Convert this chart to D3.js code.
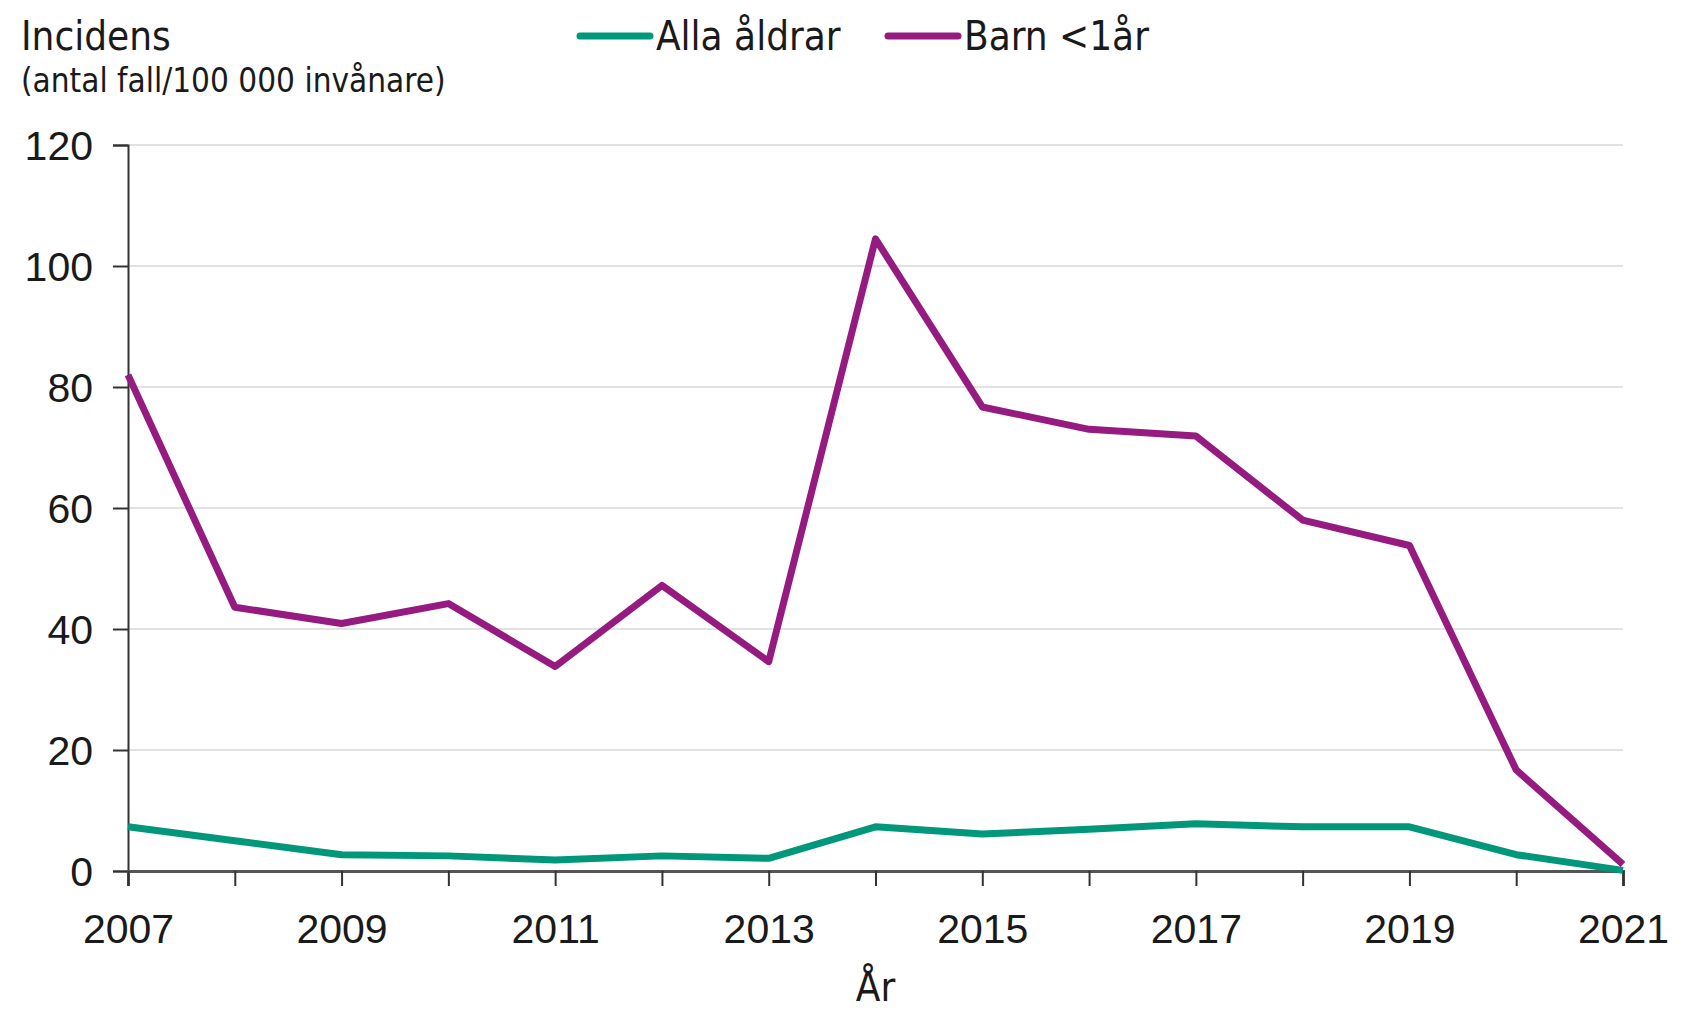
<!DOCTYPE html>
<html>
<head>
<meta charset="utf-8">
<script src="https://cdn.jsdelivr.net/npm/d3@7"></script>
<style>
  html, body { margin: 0; padding: 0; background: #fff; }
  svg { display: block; font-family: "DejaVu Sans Condensed", "DejaVu Sans", sans-serif; font-stretch: condensed; }
  .tick text { fill: #1a1a1a; }
</style>
</head>
<body>
<div id="chart"></div>
<script>
// Incidence per 100 000 inhabitants, all ages vs. infants (<1 year), 2007-2021.
const years = [2007, 2008, 2009, 2010, 2011, 2012, 2013, 2014, 2015, 2016, 2017, 2018, 2019, 2020, 2021];
const allaAldrar = [7.3, 5.0, 2.7, 2.5, 1.8, 2.5, 2.1, 7.3, 6.1, 6.9, 7.8, 7.3, 7.3, 2.7, 0.1];
const barnUnder1 = [82, 43.6, 40.9, 44.2, 33.8, 47.2, 34.6, 104.5, 76.7, 73.0, 71.9, 58.0, 53.8, 16.7, 1.1];
const yTicks = [0, 20, 40, 60, 80, 100, 120];
const xLabelYears = [2007, 2009, 2011, 2013, 2015, 2017, 2019, 2021];

const SERIES = [
  { key: 'alla', label: 'Alla åldrar', color: '#00977a', values: allaAldrar },
  { key: 'barn', label: 'Barn <1år', color: '#951b81', values: barnUnder1 },
];

const width = 1691;
const height = 1010;
const margin = { top: 145, right: 68, bottom: 139, left: 128 };
const innerWidth = width - margin.left - margin.right;
const innerHeight = height - margin.top - margin.bottom;

const svg = d3.select('#chart').append('svg')
  .attr('width', width)
  .attr('height', height);

const g = svg.append('g').attr('transform', `translate(${margin.left},${margin.top})`);

const x = d3.scaleLinear().domain([2007, 2021]).range([0, innerWidth]);
const y = d3.scaleLinear().domain([0, 120]).range([innerHeight, 0]);

// horizontal gridlines (not at 0, the axis sits there)
g.append('g').selectAll('line')
  .data(yTicks.filter((d) => d > 0))
  .join('line')
  .attr('x1', 0)
  .attr('x2', innerWidth)
  .attr('y1', (d) => y(d))
  .attr('y2', (d) => y(d))
  .attr('stroke', '#e2e2e2')
  .attr('stroke-width', 2);

const yAxis = g.append('g')
  .call(d3.axisLeft(y).tickValues(yTicks).tickSize(15).tickPadding(20).tickFormat(d3.format('d')));
yAxis.select('.domain').attr('stroke', '#333').attr('stroke-width', 2);
yAxis.selectAll('.tick line').attr('stroke', '#333').attr('stroke-width', 2);
yAxis.selectAll('.tick text').attr('font-size', 41).attr('dy', '0.36em');

// ticks every year, labels only every second year
const xAxis = g.append('g')
  .attr('transform', `translate(0,${innerHeight})`)
  .call(d3.axisBottom(x).tickValues(years).tickSize(15).tickPadding(28).tickFormat(d3.format('d')));
xAxis.select('.domain').attr('stroke', '#555').attr('stroke-width', 3);
xAxis.selectAll('.tick line').attr('stroke', '#333').attr('stroke-width', 2);
xAxis.selectAll('.tick text')
  .filter((d) => !xLabelYears.includes(d))
  .remove();
xAxis.selectAll('.tick text').attr('font-size', 41);

const line = d3.line()
  .x((d, i) => x(years[i]))
  .y((d) => y(d));

SERIES.forEach((s) => {
  g.append('path')
    .datum(s.values)
    .attr('fill', 'none')
    .attr('stroke', s.color)
    .attr('stroke-width', 7)
    .attr('stroke-linejoin', 'round')
    .attr('d', line);
});

// y-axis title, top left
svg.append('text')
  .attr('x', 21)
  .attr('y', 50)
  .attr('font-size', 40)
  .attr('fill', '#1a1a1a')
  .text('Incidens');
svg.append('text')
  .attr('x', 21)
  .attr('y', 92)
  .attr('font-size', 33)
  .attr('fill', '#1a1a1a')
  .text('(antal fall/100 000 invånare)');

// x-axis title
svg.append('text')
  .attr('x', margin.left + x(2014))
  .attr('y', 1001)
  .attr('text-anchor', 'middle')
  .attr('font-size', 40)
  .attr('fill', '#1a1a1a')
  .text('År');

// legend
const legendX = [580, 888];
SERIES.forEach((s, i) => {
  const item = svg.append('g').attr('transform', `translate(${legendX[i]},36)`);
  item.append('line')
    .attr('x1', 0).attr('x2', 70)
    .attr('y1', 0).attr('y2', 0)
    .attr('stroke', s.color)
    .attr('stroke-width', 7)
    .attr('stroke-linecap', 'round');
  item.append('text')
    .attr('x', 76)
    .attr('y', 14)
    .attr('font-size', 40)
    .attr('fill', '#1a1a1a')
    .text(s.label);
});
</script>
</body>
</html>
